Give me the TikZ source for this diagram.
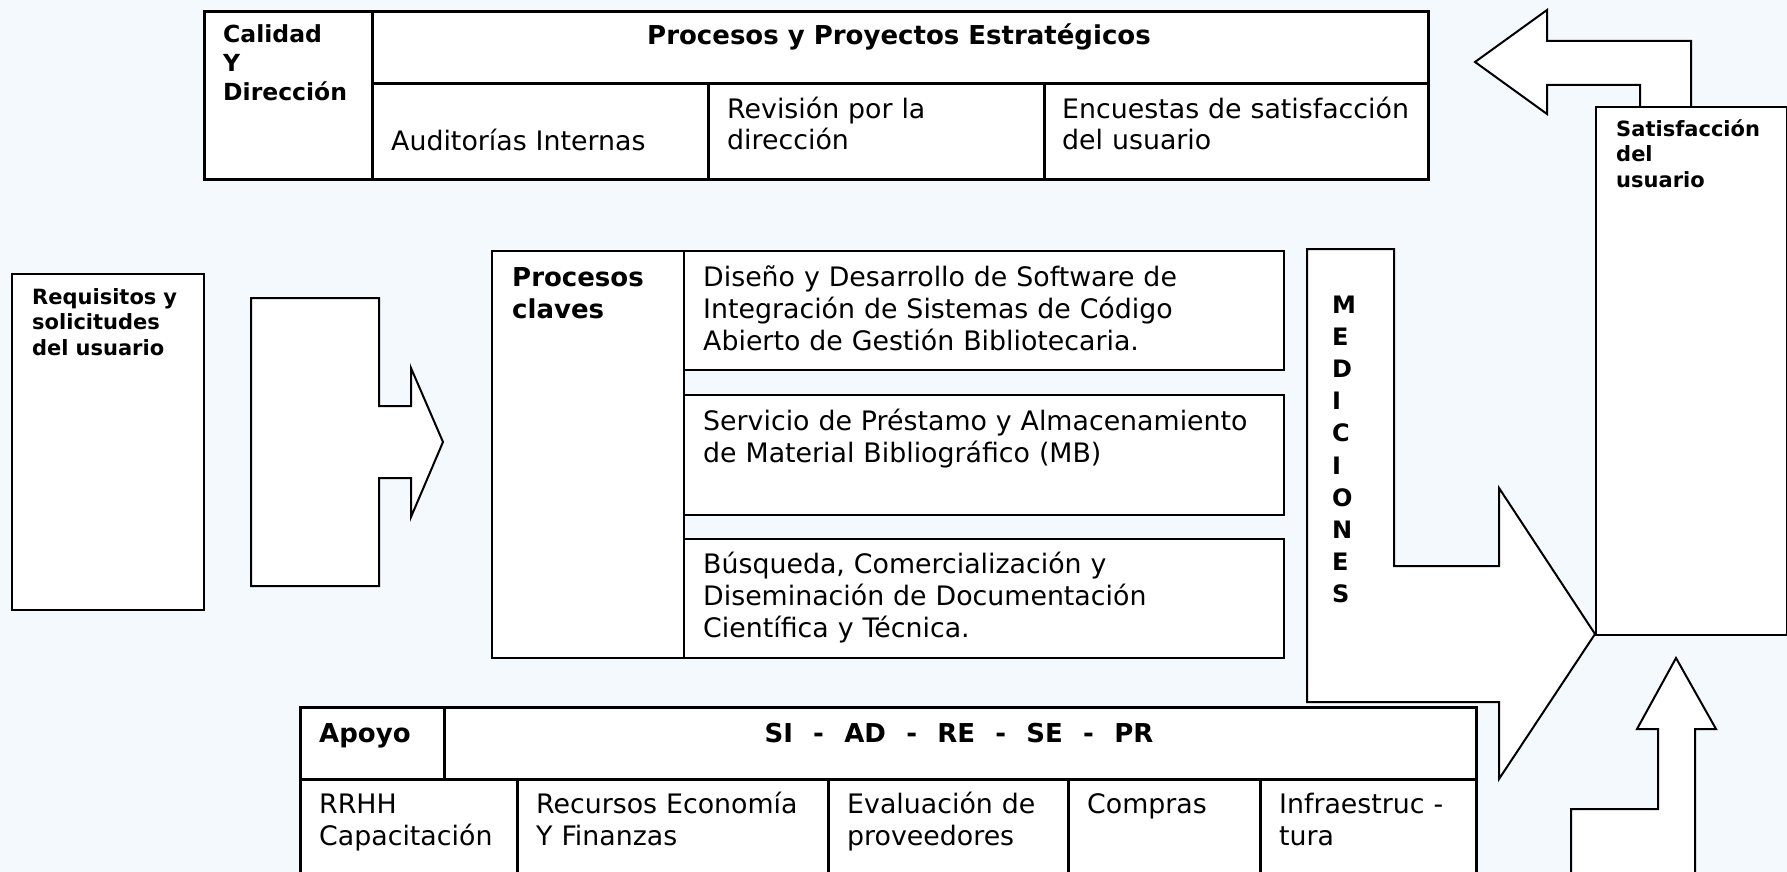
\documentclass[tikz,border=0pt]{standalone}
\usepackage{fontspec}
\setmainfont{DejaVu Sans}
\definecolor{paper}{RGB}{244,249,253}
\tikzset{
    cell/.style={
        rectangle,
        draw=black,
        fill=white,
        line width=2.6pt,
        anchor=north west,
        inner sep=0pt
    },
    blockarrow/.style={
        draw=black,
        fill=white,
        line width=2pt,
        line join=miter
    },
    txt/.style={
        anchor=base west,
        inner sep=0pt,
        text width=620pt,
        align=left,
        font=\fontsize{26.8}{32}\selectfont
    },
    headtxt/.style={
        txt,
        font=\bfseries\fontsize{26}{32}\selectfont
    },
    centertxt/.style={
        anchor=base,
        inner sep=0pt,
        font=\bfseries\fontsize{26}{32}\selectfont
    },
    sidetxt/.style={
        txt,
        font=\bfseries\fontsize{21}{25.5}\selectfont
    }
}

\begin{document}
\begin{tikzpicture}[x=1pt, y=-1pt]

% Background
\path[use as bounding box, fill=paper] (0,0) rectangle (1787,872);
\clip (0,0) rectangle (1787,872);

% Strategic processes
\node (calidad) [cell, minimum width=168pt, minimum height=168pt] at (203,10) {};
\node (estrategicos) [cell, minimum width=1056pt, minimum height=72pt] at (371,10) {};
\node (auditorias) [cell, minimum width=336pt, minimum height=96pt] at (371,82) {};
\node (revision) [cell, minimum width=336pt, minimum height=96pt] at (707,82) {};
\node (encuestas) [cell, minimum width=384pt, minimum height=96pt] at (1043,82) {};
\node (calidadtxt) [txt, font=\bfseries\fontsize{23.5}{29}\selectfont] at (223,43) {Calidad\\Y\\Dirección};
\node (estrategicostxt) [centertxt] at (899,45) {Procesos y Proyectos Estratégicos};
\node (auditoriastxt) [txt] at (391,150) {Auditorías Internas};
\node (revisiontxt) [txt] at (727,118) {Revisión por la\\dirección};
\node (encuestastxt) [txt] at (1062,118) {Encuestas de satisfacción\\del usuario};

% Feedback arrow to the top
\draw[blockarrow] (1691,106) -- (1691,41) -- (1547,41) -- (1547,10) -- (1475,62)
    -- (1547,114) -- (1547,85) -- (1640,85) -- (1640,106);

% User satisfaction
\node (satisfaccion) [cell, line width=2.2pt, minimum width=191pt, minimum height=528pt] at (1595,106) {};
\node (satisfacciontxt) [sidetxt] at (1616,136) {Satisfacción\\del\\usuario};

% User requirements
\node (requisitos) [cell, line width=2.2pt, minimum width=192pt, minimum height=336pt] at (11,273) {};
\node (requisitostxt) [sidetxt] at (32,304) {Requisitos y\\solicitudes\\del usuario};

% Input arrow
\draw[blockarrow] (251,298) -- (379,298) -- (379,406) -- (411,406) -- (411,368) -- (443,442)
    -- (411,517) -- (411,478) -- (379,478) -- (379,586) -- (251,586) -- cycle;

% Key processes
\node (claves) [cell, line width=2pt, minimum width=192pt, minimum height=407pt] at (491,250) {};
\node (diseno) [cell, line width=2pt, minimum width=600pt, minimum height=119pt] at (683,250) {};
\node (prestamo) [cell, line width=2pt, minimum width=600pt, minimum height=120pt] at (683,394) {};
\node (busqueda) [cell, line width=2pt, minimum width=600pt, minimum height=119pt] at (683,538) {};
\node (clavestxt) [headtxt] at (512,286) {Procesos\\claves};
\node (disenotxt) [txt] at (703,286) {Diseño y Desarrollo de Software de\\Integración de Sistemas de Código\\Abierto de Gestión Bibliotecaria.};
\node (prestamotxt) [txt] at (703,430) {Servicio de Préstamo y Almacenamiento\\de Material Bibliográfico (MB)};
\node (busquedatxt) [txt] at (703,573) {Búsqueda, Comercialización y\\Diseminación de Documentación\\Científica y Técnica.};

% Measurements arrow
\draw[blockarrow] (1307,249) -- (1394,249) -- (1394,566) -- (1499,566) -- (1499,488) -- (1595,634)
    -- (1499,779) -- (1499,702) -- (1307,702) -- cycle;
\node (medicionestxt) [txt, text width=40pt, font=\bfseries\fontsize{24}{32.2}\selectfont] at (1332,313) {M\\E\\D\\I\\C\\I\\O\\N\\E\\S};

% Arrow from below
\draw[blockarrow] (1571,890) -- (1571,809) -- (1658,809) -- (1658,729) -- (1637,729) -- (1676,658)
    -- (1716,729) -- (1695,729) -- (1695,890);

% Support processes
\node (apoyo) [cell, minimum width=144pt, minimum height=72pt] at (299,706) {};
\node (siglas) [cell, minimum width=1032pt, minimum height=72pt] at (443,706) {};
\node (rrhh) [cell, minimum width=217pt, minimum height=130pt] at (299,778) {};
\node (recursos) [cell, minimum width=311pt, minimum height=130pt] at (516,778) {};
\node (evaluacion) [cell, minimum width=240pt, minimum height=130pt] at (827,778) {};
\node (compras) [cell, minimum width=192pt, minimum height=130pt] at (1067,778) {};
\node (infra) [cell, minimum width=216pt, minimum height=130pt] at (1259,778) {};
\node (apoyotxt) [headtxt] at (319,742) {Apoyo};
\node (siglastxt) [centertxt] at (959,742) {SI\hspace{0.78em}-\hspace{0.78em}AD\hspace{0.78em}-\hspace{0.78em}RE\hspace{0.78em}-\hspace{0.78em}SE\hspace{0.78em}-\hspace{0.78em}PR};
\node (rrhhtxt) [txt] at (319,813) {RRHH\\Capacitación};
\node (recursostxt) [txt] at (536,813) {Recursos Economía\\Y Finanzas};
\node (evaluaciontxt) [txt] at (847,813) {Evaluación de\\proveedores};
\node (comprastxt) [txt] at (1087,813) {Compras};
\node (infratxt) [txt] at (1279,813) {Infraestruc -\\tura};

\end{tikzpicture}
\end{document}
